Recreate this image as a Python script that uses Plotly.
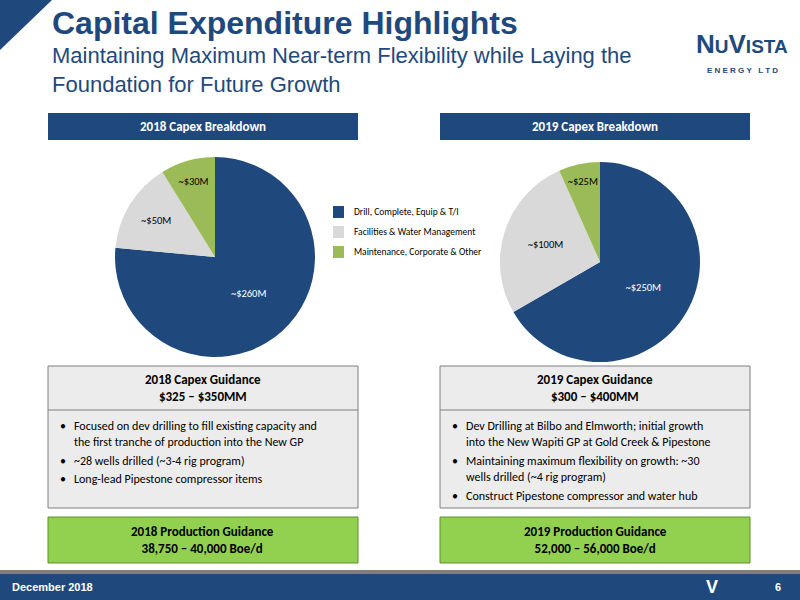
import plotly.graph_objects as go

labels = ["Drill, Complete, Equip & T/I", "Facilities & Water Management", "Maintenance, Corporate & Other"]
capex_2018 = [260, 50, 30]
capex_2019 = [250, 100, 25]
text_2018 = ["~$260M", "~$50M", "~$30M"]
text_2019 = ["~$250M", "~$100M", "~$25M"]
colors = ["#1f497d", "#d9d9d9", "#9bbb59"]

W, H = 800, 600
def px(x): return x / W
def py(y): return 1 - y / H

fig = go.Figure()
for vals, txt, cx, cy, r in [(capex_2018, text_2018, 215, 257, 100), (capex_2019, text_2019, 600, 262, 100)]:
    fig.add_trace(go.Pie(values=vals, labels=labels, text=txt, textinfo="text", sort=False,
                         direction="clockwise", rotation=0, marker=dict(colors=colors),
                         textfont=dict(size=10.5, family="Carlito, Lato", color=["white", "black", "black"]),
                         insidetextorientation="horizontal", showlegend=False, hoverinfo="skip",
                         domain=dict(x=[px(cx - r), px(cx + r)], y=[py(cy + r), py(cy - r)])))

shapes, ann = [], []
def rect(x0, y0, x1, y1, fill, line=None, lw=1):
    shapes.append(dict(type="rect", xref="paper", yref="paper", x0=px(x0), x1=px(x1), y0=py(y1), y1=py(y0),
                       fillcolor=fill, line=dict(color=line or fill, width=lw if line else 0), layer="below"))
def text(x, y, s, size=12, color="black", bold=False, xa="left", font="Carlito, Lato", ya="middle"):
    ann.append(dict(xref="paper", yref="paper", x=px(x), y=py(y), text=f"<b>{s}</b>" if bold else s, showarrow=False,
                    xanchor=xa, yanchor=ya, align=xa, font=dict(size=size, color=color, family=font)))

shapes.append(dict(type="path", xref="paper", yref="paper", path=f"M 0 1 L {px(52)} 1 L 0 {py(50)} Z", fillcolor="#1f497d", line=dict(width=0)))
text(50, 23, "Capital Expenditure Highlights", 32, "#1f497d", True, font="Liberation Sans, Arial")
text(50, 70, "Maintaining Maximum Near-term Flexibility while Laying the<br>Foundation for Future Growth", 22, "#1f497d", font="Liberation Sans, Arial")
text(742, 44, "N<span style='font-size:19px'>U</span>V<span style='font-size:19px'>ISTA</span>", 26, "#1f497d", True, "center", font="Liberation Sans, Arial")
text(742, 70, "E N E R G Y   L T D", 8, "#1f497d", True, "center", font="Liberation Sans, Arial")

for x0, t in [(48, "2018 Capex Breakdown"), (440, "2019 Capex Breakdown")]:
    rect(x0, 113, x0 + 310, 140, "#1f497d")
    text(x0 + 155, 126.5, t, 13, "white", True, "center")

for i, l in enumerate(labels):
    y = 212 + i * 20
    rect(333, y - 6, 344, y + 6, colors[i])
    text(352, y, l, 9.5)

guid = [
    (48, "2018 Capex Guidance<br>$325 – $350MM",
     ["Focused on dev drilling to fill existing capacity and<br>the first tranche of production into the New GP",
      "~28 wells drilled (~3-4 rig program)", "Long-lead Pipestone compressor items"],
     "2018 Production Guidance<br>38,750 – 40,000 Boe/d"),
    (440, "2019 Capex Guidance<br>$300 – $400MM",
     ["Dev Drilling at Bilbo and Elmworth; initial growth<br>into the New Wapiti GP at Gold Creek & Pipestone",
      "Maintaining maximum flexibility on growth: ~30<br>wells drilled (~4 rig program)",
      "Construct Pipestone compressor and water hub"],
     "2019 Production Guidance<br>52,000 – 56,000 Boe/d"),
]
for x0, head, bullets, prod in guid:
    rect(x0, 366, x0 + 310, 508, "#ececec", "#7f7f7f", 1)
    shapes.append(dict(type="line", xref="paper", yref="paper", x0=px(x0), x1=px(x0 + 310), y0=py(410), y1=py(410), line=dict(color="#7f7f7f", width=1)))
    text(x0 + 155, 388, head, 13, "black", True, "center")
    y = 424
    for b in bullets:
        n = b.count("<br>") + 1
        text(x0 + 10, y - 7, "•", 12, ya="top")
        text(x0 + 24, y - 7, b, 12, ya="top")
        y += 17 * n + 1
    rect(x0, 517, x0 + 310, 563, "#92d050", "#5f8f2f", 1)
    text(x0 + 155, 540, prod, 13, "black", True, "center")

rect(0, 570, 800, 574, "#7f7f7f")
rect(0, 574, 800, 600, "#1f497d")
text(10, 587, "December 2018", 11, "white", True, font="Liberation Sans, Arial")
text(778, 587, "6", 11, "white", True, "center", font="Liberation Sans, Arial")
text(712, 587, "V", 18, "white", True, "center", font="Liberation Sans, Arial")

fig.update_layout(width=W, height=H, margin=dict(l=0, r=0, t=0, b=0), paper_bgcolor="white",
                  plot_bgcolor="white", shapes=shapes, annotations=ann)
fig.write_html("out.html", config={"displayModeBar": False},
               post_script="document.body.style.margin='0';document.body.style.overflow='hidden';")
